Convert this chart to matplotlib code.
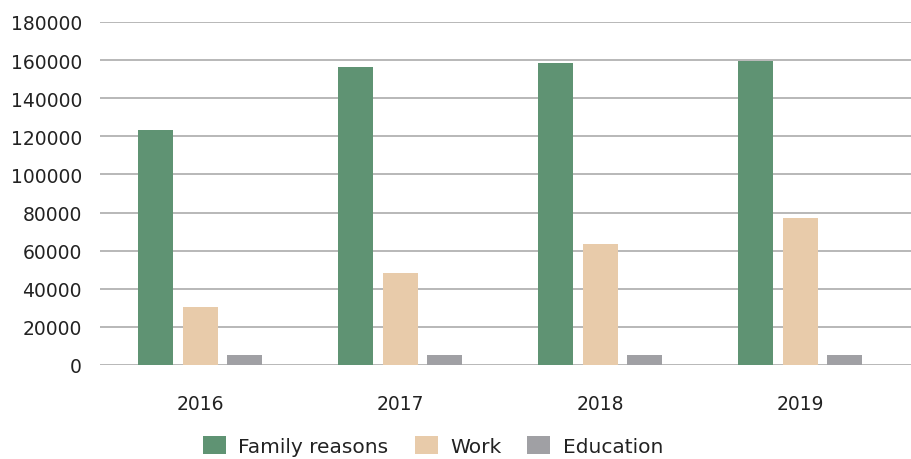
import numpy as np
import matplotlib.pyplot as plt

years = ['2016', '2017', '2018', '2019']
family = [123300, 156300, 158400, 159700]
work = [30600, 48100, 63600, 77300]
education = [5100, 5100, 5100, 5100]

series = [('Family reasons', family, '#5f9373'),
          ('Work', work, '#e8cbaa'),
          ('Education', education, '#a0a0a4')]

W, H = 911, 460
fig = plt.figure(figsize=(W / 100, H / 100), dpi=100)
ax = fig.add_axes([100 / W, (H - 366) / H, 811 / W, 343 / H])

x = np.arange(len(years))
width = 0.175
step = 0.2225
for i, (name, vals, color) in enumerate(series):
    ax.bar(x + (i - 1) * step, vals, width, color=color, label=name, zorder=3)

ax.set_ylim(0, 180000)
ax.set_xlim(-0.5, 3.555)
ax.set_yticks(np.arange(0, 180001, 20000))
ax.set_xticks(x)
ax.set_xticklabels(years)
ax.grid(axis='y', color='#b8b8b8', linewidth=1.4, zorder=0)
ax.tick_params(axis='y', length=0, pad=13, labelsize=13.5, labelcolor='#222222')
ax.tick_params(axis='x', length=0, pad=21, labelsize=13.5, labelcolor='#222222')
for s in ax.spines.values():
    s.set_visible(False)

fig.legend(loc='center', bbox_to_anchor=(433 / W, 1 - 447 / H), ncol=3,
           frameon=False, fontsize=14.5, handlelength=1.15, handleheight=1.0,
           handletextpad=0.6, columnspacing=1.3, labelcolor='#222222',
           borderpad=0.2)

fig.savefig('out.png', dpi=100)
